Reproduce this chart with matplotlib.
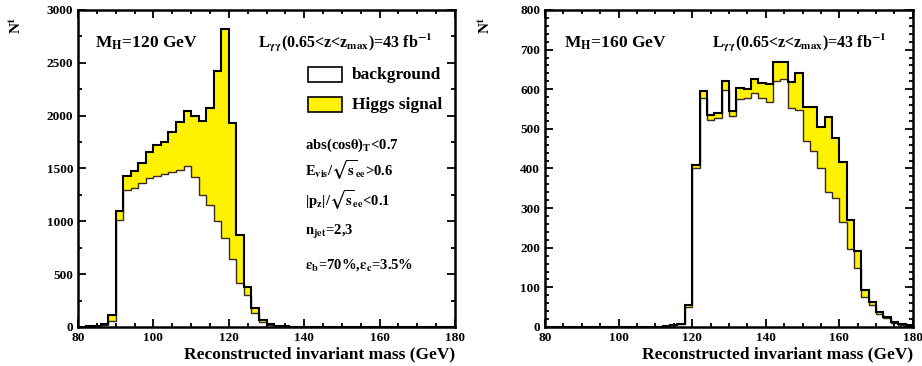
import numpy as np
import matplotlib.pyplot as plt
from matplotlib.patches import Rectangle
from matplotlib.ticker import MultipleLocator

plt.rcParams['font.family'] = 'Liberation Serif'
plt.rcParams['font.weight'] = 'bold'
plt.rcParams['mathtext.fontset'] = 'stix'
plt.rcParams['mathtext.default'] = 'bf'

# 2 GeV bins from 80 to 180 GeV
edges = np.arange(80, 182, 2)

# M_H = 120 GeV: background and background + signal
bkg_120 = [0, 3, 8, 20, 60, 1010, 1300, 1320, 1360, 1410,
           1430, 1450, 1470, 1490, 1520, 1420, 1250, 1150, 1000, 840,
           640, 415, 300, 130, 45, 18, 8, 4, 2, 1,
           0, 0, 0, 0, 0, 0, 0, 0, 0, 0,
           0, 0, 0, 0, 0, 0, 0, 0, 0, 0]
tot_120 = [0, 5, 12, 30, 110, 1100, 1430, 1480, 1550, 1660,
           1720, 1750, 1850, 1940, 2040, 2000, 1950, 2070, 2420, 2820,
           1930, 870, 380, 180, 66, 28, 12, 6, 3, 2,
           0, 0, 0, 0, 0, 0, 0, 0, 0, 0,
           0, 0, 0, 0, 0, 0, 0, 0, 0, 0]

# M_H = 160 GeV
bkg_160 = [0, 0, 0, 0, 0, 0, 0, 0, 0, 0,
           0, 0, 0, 0, 0, 0, 2, 5, 8, 50,
           400, 577, 522, 528, 598, 532, 575, 578, 590, 578,
           568, 620, 625, 552, 548, 470, 445, 400, 340, 325,
           266, 196, 150, 76, 55, 32, 22, 11, 6, 3]
tot_160 = [0, 0, 0, 0, 0, 0, 0, 0, 0, 0,
           0, 0, 0, 0, 0, 0, 2, 5, 8, 55,
           410, 596, 535, 540, 620, 545, 602, 600, 625, 615,
           612, 668, 668, 618, 640, 556, 556, 505, 530, 478,
           417, 270, 192, 93, 64, 38, 25, 13, 7, 4]

YELLOW = '#fff200'
lumi = r'L$_{\gamma\gamma}$(0.65<z<z$_{max}$)=43 fb$^{-1}$'
cuts = [r'abs(cos$\theta$)$_T$<0.7',
        r'E$_{vis}$/$\sqrt{s}_{ee}$>0.6',
        r'|p$_z$|/$\sqrt{s}_{ee}$<0.1',
        r'n$_{jet}$=2,3',
        r'$\epsilon_b$=70%,$\epsilon_c$=3.5%']

fig = plt.figure(figsize=(9.22, 3.66), dpi=100)
ax1 = fig.add_axes([0.0846, 0.1066, 0.4089, 0.8661])
ax2 = fig.add_axes([0.5911, 0.1066, 0.3990, 0.8661])


def draw_hist(ax, bkg, tot, ymax, major, minor):
    ax.stairs(tot, edges, fill=True, color=YELLOW, lw=0)
    ax.stairs(bkg, edges, fill=True, color='white', lw=0)
    ax.stairs(bkg, edges, color='#3a2a20', lw=1.0)
    ax.stairs(tot, edges, color='black', lw=1.5)
    ax.set_xlim(80, 180)
    ax.set_ylim(0, ymax)
    ax.xaxis.set_major_locator(MultipleLocator(20))
    ax.xaxis.set_minor_locator(MultipleLocator(5))
    ax.yaxis.set_major_locator(MultipleLocator(major))
    ax.yaxis.set_minor_locator(MultipleLocator(minor))
    ax.tick_params(which='both', direction='in', top=True, right=True,
                   width=1.3, labelsize=9.5)
    ax.tick_params(which='major', length=6)
    ax.tick_params(which='minor', length=3)
    for s in ax.spines.values():
        s.set_linewidth(1.8)
    ax.set_xlabel('Reconstructed invariant mass (GeV)', fontsize=12.5,
                  fontweight='bold', loc='right', labelpad=2)


draw_hist(ax1, bkg_120, tot_120, 3000, 500, 250)
draw_hist(ax2, bkg_160, tot_160, 800, 100, 20)

for ax in (ax1, ax2):
    ax.text(-0.165, 0.95, r'N$^t$', transform=ax.transAxes, rotation=90,
            fontsize=11, ha='center', va='center')

ax1.text(0.045, 0.896, r'M$_H$=120 GeV', transform=ax1.transAxes,
         fontsize=12.5, va='center')
ax1.text(0.477, 0.896, lumi, transform=ax1.transAxes, fontsize=11.5,
         va='center')
ax2.text(0.053, 0.896, r'M$_H$=160 GeV', transform=ax2.transAxes,
         fontsize=12.5, va='center')
ax2.text(0.455, 0.896, lumi, transform=ax2.transAxes, fontsize=11.5,
         va='center')

# legend boxes
for yb, fc, lab in [(0.773, 'white', 'background'),
                    (0.678, YELLOW, 'Higgs signal')]:
    ax1.add_patch(Rectangle((0.61, yb), 0.09, 0.046, transform=ax1.transAxes,
                            facecolor=fc, edgecolor='black', lw=1.2))
    ax1.text(0.727, yb + 0.023, lab, transform=ax1.transAxes, fontsize=12.5,
             va='center')

for yc, txt in zip([0.574, 0.495, 0.40, 0.30, 0.196], cuts):
    ax1.text(0.602, yc, txt, transform=ax1.transAxes, fontsize=10.5,
             va='center')

fig.savefig('out.png', dpi=100)
